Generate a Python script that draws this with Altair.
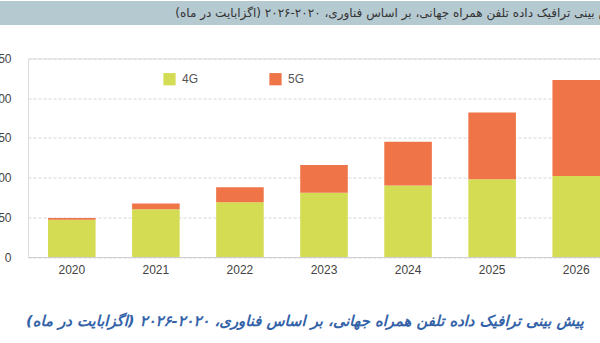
import altair as alt
import pandas as pd

years = ["2020", "2021", "2022", "2023", "2024", "2025", "2026"]
g4 = [47, 60, 69, 81, 90, 98, 102]
g5 = [2, 7.5, 19, 35, 55, 84, 121]
techs = ["4G", "5G"]
colors = ["#d4dc54", "#ef7549"]
y_ticks = [0, 50, 100, 150, 200, 250]
top_title = "پیش بینی ترافیک داده تلفن همراه جهانی، بر اساس فناوری، ۲۰۲۰-۲۰۲۶ (اگزابایت در ماه)"
bottom_title = "پیش بینی ترافیک داده تلفن همراه جهانی، بر اساس فناوری، ۲۰۲۰-۲۰۲۶ (اگزابایت در ماه)"

rows = []
for i, yr in enumerate(years):
    rows.append({"year": yr, "tech": "4G", "value": g4[i]})
    rows.append({"year": yr, "tech": "5G", "value": g5[i]})
df = pd.DataFrame(rows)

W = 572
H = 198.5

bars = alt.Chart(df).mark_bar().encode(
    x=alt.X("year:N", sort=years,
            scale=alt.Scale(paddingInner=0.434, paddingOuter=0.119, align=1),
            axis=alt.Axis(title=None, labelAngle=0, ticks=False, domain=True,
                          domainColor="#cfcfcf", domainWidth=1.2,
                          labelPadding=7, labelFontSize=12, labelColor="#444",
                          labelFont="Liberation Sans", grid=False)),
    y=alt.Y("value:Q", stack="zero",
            scale=alt.Scale(domain=[0, 250], nice=False),
            axis=alt.Axis(title=None, values=y_ticks, ticks=False, domain=False,
                          labelPadding=17, labelFontSize=12, labelColor="#444",
                          labelFont="Liberation Sans",
                          grid=True, gridColor="#d6d6d6", gridDash=[3, 2],
                          gridWidth=1)),
    color=alt.Color("tech:N", sort=techs,
                    scale=alt.Scale(domain=techs, range=colors),
                    legend=alt.Legend(title=None, orient="none", legendX=135,
                                      legendY=14, direction="horizontal",
                                      symbolType="square", symbolSize=150,
                                      symbolStrokeWidth=0, columnPadding=70,
                                      labelFontSize=12, labelColor="#555",
                                      labelFont="Liberation Sans",
                                      labelOffset=6)),
    order=alt.Order("tech:N", sort="ascending"),
)

band = alt.Chart(pd.DataFrame({"k": [0]})).mark_rect(color="#b5c9d1").encode(
    x=alt.value(-28), x2=alt.value(W), y=alt.value(-57.5), y2=alt.value(-33.5)
)

top_text = alt.Chart(pd.DataFrame({"t": [top_title]})).mark_text(
    dir="rtl", align="center", baseline="middle", fontSize=12,
    font="DejaVu Sans", color="#333333"
).encode(text="t:N", x=alt.value(370), y=alt.value(-46))

bottom_text = alt.Chart(pd.DataFrame({"t": [bottom_title]})).mark_text(
    dir="rtl", align="center", baseline="middle", fontSize=14.8,
    font="DejaVu Sans", fontWeight="bold", fontStyle="italic", color="#3462a8"
).encode(text="t:N", x=alt.value(277), y=alt.value(263.5))

chart = alt.layer(band, bars, top_text, bottom_text).properties(
    width=W, height=H,
    autosize=alt.AutoSizeParams(type="none"),
    padding={"left": 28, "top": 58.5, "right": 0, "bottom": 86},
).configure_view(stroke=None).configure(background="white")

chart.save("out.html", embed_options={"renderer": "svg", "actions": False})
